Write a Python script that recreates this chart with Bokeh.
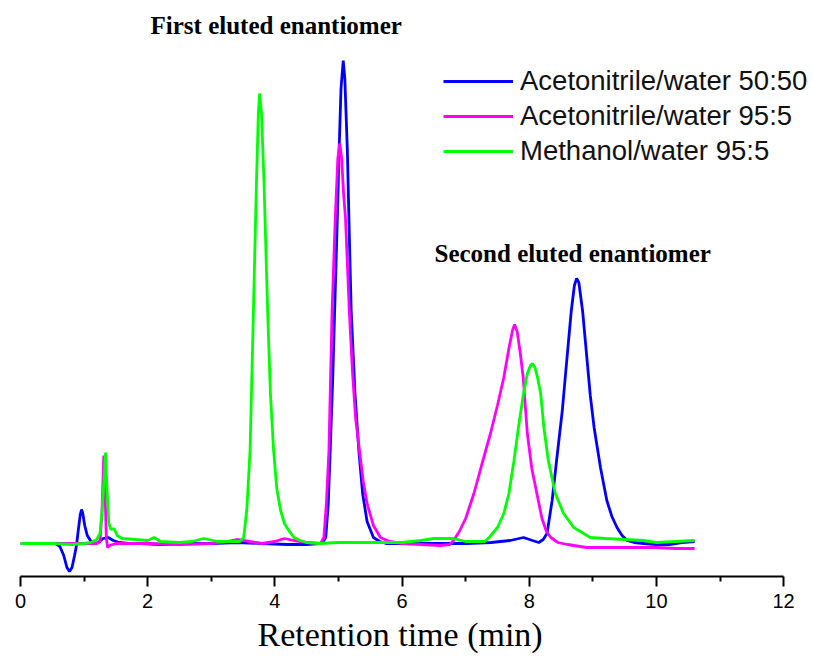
from bokeh.plotting import figure
from bokeh.models import Range1d, Legend, LegendItem, Label, FixedTicker, Title
from bokeh.embed import file_html
from bokeh.resources import INLINE

# ---- data (retention time in min, detector signal in arbitrary units) ----
x_ticks = [0, 2, 4, 6, 8, 10, 12]
x_minor = [1, 3, 5, 7, 9, 11]
x_title = "Retention time (min)"

series_names = ["Acetonitrile/water 50:50", "Acetonitrile/water 95:5", "Methanol/water 95:5"]

t_acn50 = [0.0, 0.30, 0.55, 0.62, 0.68, 0.73, 0.77, 0.81, 0.85, 0.88, 0.91, 0.94, 0.96, 0.98,
           1.01, 1.05, 1.10, 1.15, 1.22, 1.30, 1.38, 1.46, 1.55, 1.70, 1.90, 2.20, 2.60, 3.00,
           3.40, 3.80, 4.20, 4.50, 4.70, 4.75, 4.80, 4.84, 4.87, 4.91, 4.94, 4.98, 5.01, 5.04,
           5.075, 5.10, 5.14, 5.17, 5.20, 5.26, 5.32, 5.38, 5.45, 5.55, 5.65, 5.75, 6.00, 6.50,
           7.00, 7.40, 7.70, 7.91, 8.05, 8.15, 8.22, 8.28, 8.36, 8.43, 8.52, 8.59, 8.66, 8.71,
           8.745, 8.78, 8.84, 8.91, 8.96, 9.02, 9.12, 9.22, 9.30, 9.38, 9.46, 9.54, 9.65, 9.80,
           10.00, 10.20, 10.40, 10.60]
y_acn50 = [0, 0, 0, -3, -12, -24, -28, -24, -12, -2, 14, 29, 34, 30,
           18, 8, 3, 0, 1, 5, 6, 3, 1, 0, 0, -1, 0, 0,
           1, 0, -1, -1, 0, 1, 6, 40, 93, 165, 233, 320, 393, 455,
           483, 465, 393, 310, 233, 150, 93, 50, 22, 6, 2, 0, 0, 0,
           0, 1, 3, 6, 3, 1, 4, 10, 43, 83, 133, 183, 232, 258,
           265, 261, 232, 183, 148, 116, 76, 43, 27, 16, 8, 3, 1, 0,
           -1, -1, 1, 2]

t_acn95 = [0.0, 0.5, 1.0, 1.20, 1.25, 1.28, 1.31, 1.33, 1.35, 1.37, 1.40, 1.50, 2.00, 2.50,
           3.00, 3.25, 3.40, 3.60, 3.80, 4.00, 4.15, 4.30, 4.50, 4.72, 4.77, 4.81, 4.85, 4.90,
           4.95, 4.99, 5.02, 5.05, 5.08, 5.11, 5.14, 5.17, 5.22, 5.27, 5.33, 5.39, 5.45, 5.55,
           5.66, 5.80, 6.00, 6.30, 6.60, 6.75, 6.81, 6.90, 7.00, 7.13, 7.25, 7.39, 7.50, 7.60,
           7.68, 7.74, 7.77, 7.81, 7.86, 7.905, 7.97, 8.04, 8.12, 8.20, 8.27, 8.34, 8.45, 8.60,
           8.90, 9.50, 10.00, 10.30, 10.60]
y_acn95 = [0, 0, 0, 0, 2, 30, 88, 50, 5, -4, -2, 0, 0, -1,
           0, 2, 4, 2, 0, 2, 5, 3, 1, 0, 6, 40, 93, 233,
           326, 385, 400, 385, 350, 326, 280, 233, 172, 125, 93, 62, 40, 18,
           6, 2, 0, -1, -2, -1, 3, 12, 25, 50, 78, 110, 138, 166,
           195, 214, 219, 212, 190, 166, 110, 75, 50, 25, 12, 6, 1, -1,
           -4, -4, -4, -5, -5]

t_meoh = [0.0, 0.5, 0.8, 1.0, 1.10, 1.20, 1.25, 1.28, 1.31, 1.337, 1.36, 1.39, 1.42, 1.47,
          1.52, 1.60, 1.80, 2.00, 2.10, 2.20, 2.50, 2.70, 2.88, 3.10, 3.45, 3.51, 3.56, 3.61,
          3.66, 3.71, 3.74, 3.76, 3.79, 3.83, 3.86, 3.89, 3.93, 3.98, 4.03, 4.09, 4.15, 4.22,
          4.30, 4.40, 4.50, 4.70, 5.00, 5.50, 6.00, 6.30, 6.50, 6.80, 7.00, 7.30, 7.37, 7.50,
          7.60, 7.68, 7.76, 7.83, 7.91, 7.97, 8.02, 8.05, 8.09, 8.13, 8.18, 8.23, 8.30, 8.41,
          8.54, 8.70, 8.96, 9.20, 9.50, 9.80, 10.00, 10.30, 10.60]
y_meoh = [0, 0, -1, 0, 1, 4, 10, 30, 60, 91, 55, 20, 14, 15,
          8, 5, 4, 3, 6, 2, 1, 2, 5, 2, 2, 6, 35, 93,
          225, 360, 430, 450, 430, 360, 290, 225, 150, 93, 55, 33, 20, 13,
          6, 3, 1, 0, 1, 1, 1, 3, 5, 5, 2, 2, 6, 16,
          30, 50, 83, 116, 150, 170, 178, 180, 176, 166, 150, 116, 83, 50,
          30, 16, 6, 5, 4, 3, 1, 2, 3]

annotations = ["First eluted enantiomer", "Second eluted enantiomer"]

# ---- figure ----
p = figure(width=813, height=660, output_backend="svg", toolbar_location=None,
           x_range=Range1d(0, 12.47), y_range=Range1d(-33, 543), y_axis_location=None,
           min_border_left=20, min_border_right=0, min_border_top=0, min_border_bottom=84)
p.grid.visible = False
p.outline_line_color = None
p.background_fill_color = "white"

r1 = p.line(t_acn50, y_acn50, line_color="#0000FF", line_width=2.8)
r2 = p.line(t_acn95, y_acn95, line_color="#FF00FF", line_width=2.8)
r3 = p.line(t_meoh, y_meoh, line_color="#00FF00", line_width=2.8)

ax = p.xaxis[0]
ax.bounds = (x_ticks[0], x_ticks[-1])
ax.ticker = FixedTicker(ticks=x_ticks, minor_ticks=x_minor)
ax.axis_line_width = 2
ax.axis_line_color = "black"
ax.major_tick_line_width = 2
ax.minor_tick_line_width = 2
ax.major_tick_in = 0
ax.major_tick_out = 10
ax.minor_tick_in = 0
ax.minor_tick_out = 5
ax.major_label_text_font = "Liberation Sans"
ax.major_label_text_font_size = "20px"
ax.major_label_text_color = "black"
ax.major_label_standoff = 7

# axis title placed below the axis (left-aligned to match the reference's position)
p.add_layout(Title(text=x_title, align="left", offset=237, text_font="Liberation Serif",
                   text_font_size="34px", text_font_style="normal", text_color="black",
                   standoff=7), "below")

legend = Legend(items=[LegendItem(label=series_names[0], renderers=[r1]),
                       LegendItem(label=series_names[1], renderers=[r2]),
                       LegendItem(label=series_names[2], renderers=[r3])],
                location=(423, 409), glyph_width=70, glyph_height=30, label_height=30,
                spacing=3, padding=0, margin=0, border_line_color=None,
                background_fill_alpha=0, label_text_font="Liberation Sans",
                label_text_font_size="27.5px", label_text_color="#111111", label_standoff=7)
p.add_layout(legend)

p.add_layout(Label(x=2.045, y=518, text=annotations[0], text_font="Liberation Serif",
                   text_font_style="bold", text_font_size="25px", text_baseline="middle",
                   text_align="left", text_color="black"))
p.add_layout(Label(x=6.51, y=290, text=annotations[1], text_font="Liberation Serif",
                   text_font_style="bold", text_font_size="25px", text_baseline="middle",
                   text_align="left", text_color="black"))

open("out.html", "w").write(file_html(p, INLINE))
